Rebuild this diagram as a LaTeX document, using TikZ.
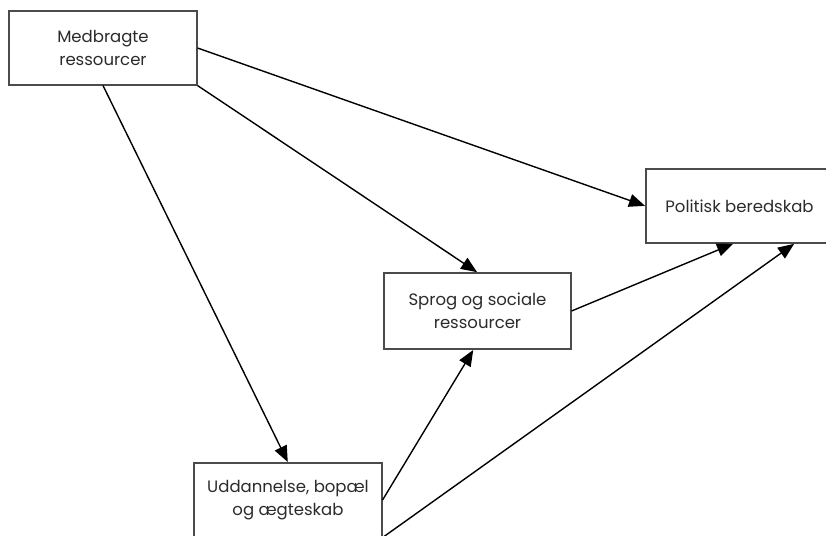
\documentclass[tikz,border=0pt]{standalone}
\usepackage{fontspec}
\setmainfont{Poppins}
\usetikzlibrary{arrows.meta,calc}
\definecolor{ink}{HTML}{2B2B2B}
\begin{document}
\begin{tikzpicture}[x=1pt,y=-1pt,
  box/.style={draw=ink!85, line width=1.1pt, fill=white, text=ink,
    align=center, inner sep=0pt, font=\fontsize{16.5}{23}\selectfont},
  link/.style={line width=1.4pt, -{Triangle[length=16pt,width=13pt]}, shorten >=0.5pt}]
  \useasboundingbox (0,0) rectangle (826,535);
  \clip (0,0) rectangle (826,535);
  % boxes
  \node[box, minimum width=188pt, minimum height=74pt] (m) at (103,48) {Medbragte\\ressourcer};
  \node[box, minimum width=187pt, minimum height=74pt] (p) at (739.5,206) {Politisk beredskab};
  \node[box, minimum width=187pt, minimum height=76pt] (s) at (477.5,311) {Sprog og sociale\\ressourcer};
  \node[box, minimum width=188pt, minimum height=74pt] (u) at (288,500) {Uddannelse, bopæl\\og ægteskab};
  % connectors
  \draw[link] (m.east) -- (p.west);
  \draw[link] (m.south east) -- (s.north);
  \draw[link] (m.south) -- (u.north);
  \draw[link] (s.east) -- ([xshift=-6pt]p.south);
  \draw[link] (u.east) -- ([xshift=-4pt]s.south);
  \draw[link] (u.south east) -- ([xshift=55pt]p.south);
\end{tikzpicture}
\end{document}
